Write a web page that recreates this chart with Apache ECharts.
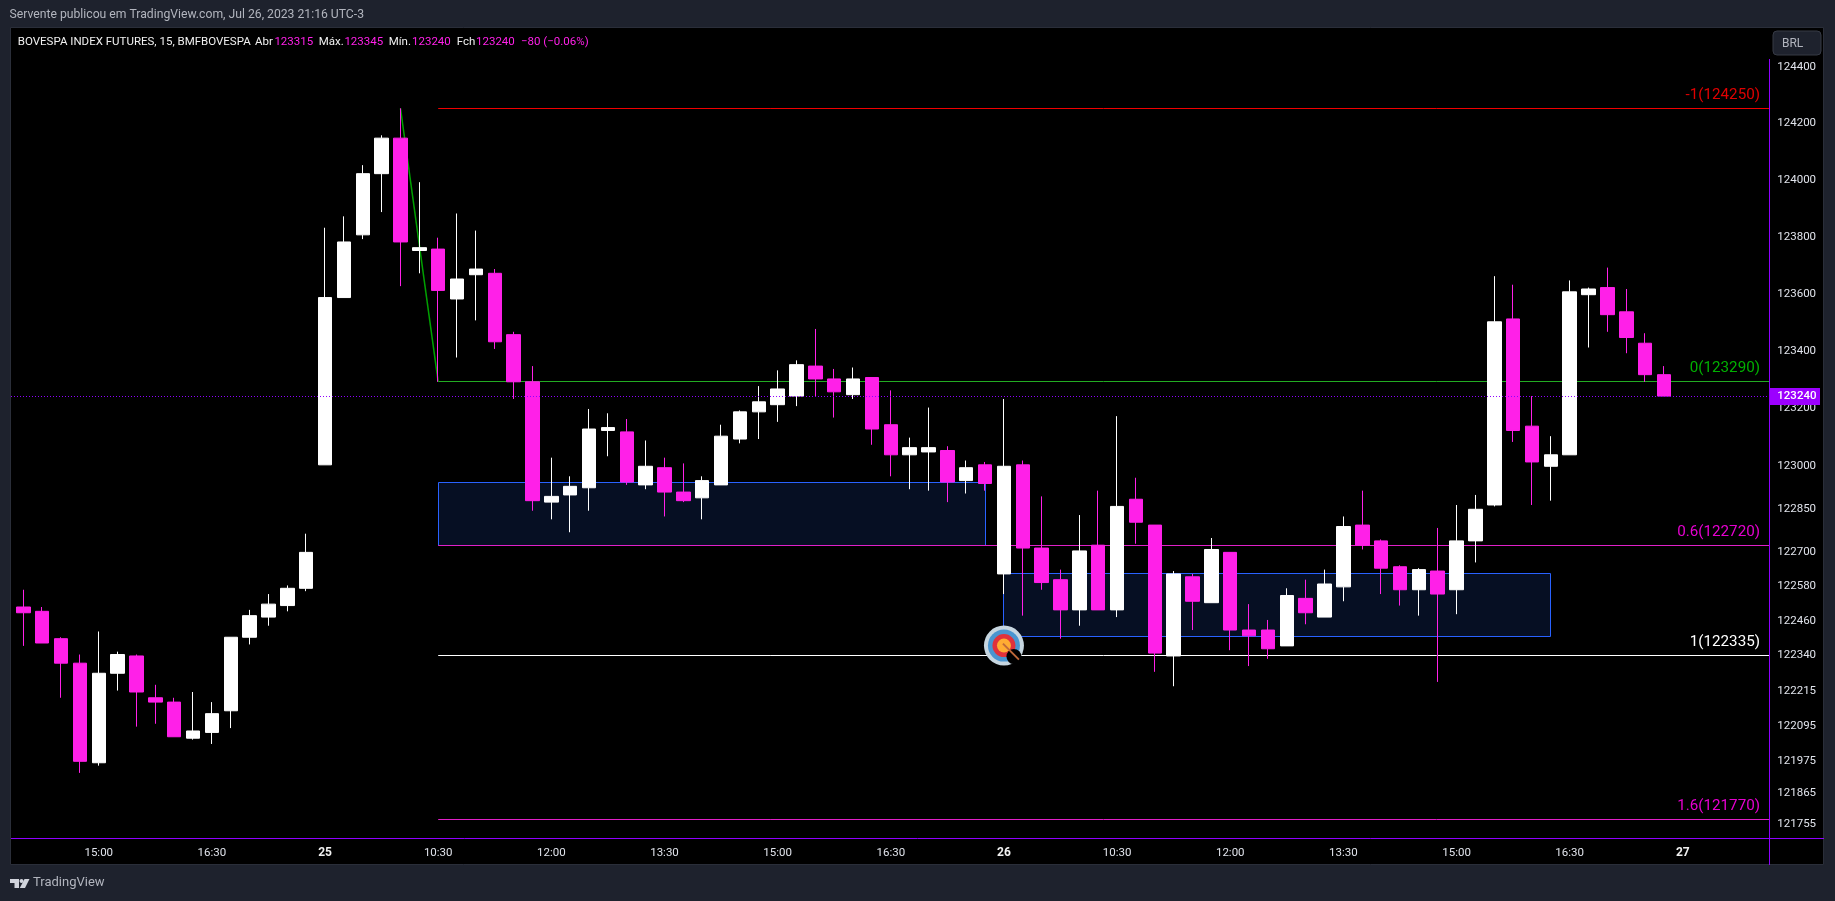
<!DOCTYPE html>
<html lang="pt">
<head>
    <meta charset="UTF-8">
    <title>BOVESPA INDEX FUTURES</title>
    <script src="https://cdn.jsdelivr.net/npm/echarts@6/dist/echarts.min.js"></script>
    <style>
        html, body { margin: 0; padding: 0; background: #1e222d; }
        #main { width: 1835px; height: 901px; }
    </style>
</head>
<body>
<div id="main"></div>
<script type="text/javascript">
// 15 min bars, Jul 24 14:00 to Jul 26 17:45, then empty room on the right
var categories = [
    '14:00','14:15','14:30','14:45','15:00','15:15','15:30','15:45','16:00','16:15','16:30','16:45','17:00','17:15','17:30','17:45',
    '25','09:15','09:30','09:45','10:00','10:15','10:30','10:45','11:00','11:15','11:30','11:45','12:00','12:15','12:30','12:45','13:00','13:15','13:30','13:45','14:00','14:15','14:30','14:45','15:00','15:15','15:30','15:45','16:00','16:15','16:30','16:45','17:00','17:15','17:30','17:45',
    '26','09:15','09:30','09:45','10:00','10:15','10:30','10:45','11:00','11:15','11:30','11:45','12:00','12:15','12:30','12:45','13:00','13:15','13:30','13:45','14:00','14:15','14:30','14:45','15:00','15:15','15:30','15:45','16:00','16:15','16:30','16:45','17:00','17:15','17:30','17:45',
    '27','09:15','09:30','09:45','10:00'
];
var opens = [
    122505,122490,122395,122310,121965,122275,122335,122190,122175,122050,122070,122145,122400,122470,122510,122570,
    123000,123585,123805,124020,124145,123750,123755,123580,123665,123670,123455,123290,122870,122895,122920,123120,123115,122930,122990,122905,122885,122930,123090,123185,123210,123240,123345,123300,123245,123305,123140,123035,123045,123050,122945,123000,
    122620,123000,122710,122600,122495,122720,122495,122880,122790,122335,122610,122520,122695,122425,122425,122370,122535,122470,122575,122790,122735,122645,122565,122630,122565,122735,122860,123510,123135,122995,123035,123595,123620,123535,123425,123315
];
var closes = [
    122485,122380,122310,121970,122275,122340,122210,122175,122055,122075,122135,122400,122475,122515,122570,122695,
    123585,123780,124020,124145,123780,123760,123610,123650,123685,123430,123290,122875,122890,122925,123125,123130,122940,122995,122905,122875,122945,123100,123185,123220,123265,123350,123300,123255,123300,123125,123035,123060,123060,122940,122990,122935,
    122995,122710,122590,122495,122700,122495,122855,122800,122345,122620,122525,122705,122425,122405,122360,122545,122485,122585,122785,122720,122640,122565,122635,122550,122735,122845,123500,123120,123010,123035,123605,123615,123525,123445,123315,123240
];
var lows = [
    122370,122380,122190,121930,121955,122215,122090,122100,122055,122045,122030,122085,122375,122440,122490,122560,
    123000,123585,123790,123885,123625,123670,123290,123375,123505,123405,123230,122840,122810,122765,122840,123030,122930,122915,122820,122870,122810,122930,123075,123090,123150,123205,123240,123165,123230,123070,122960,122915,122910,122870,122900,122910,
    122550,122475,122565,122395,122440,122495,122470,122725,122280,122230,122425,122520,122355,122300,122325,122370,122445,122470,122525,122705,122550,122510,122475,122245,122480,122660,122855,123080,122860,122875,123035,123410,123465,123390,123290,123240
];
var highs = [
    122565,122505,122400,122340,122420,122350,122340,122235,122190,122210,122175,122400,122495,122550,122580,122760,
    123830,123870,124050,124155,124250,123990,123795,123880,123820,123685,123465,123345,123025,122960,123195,123180,123160,123085,123025,123005,122960,123140,123190,123275,123330,123365,123475,123335,123340,123305,123260,123095,123200,123065,123015,123010,
    123230,123015,122890,122635,122825,122910,123170,122955,122790,122630,122620,122745,122695,122515,122460,122570,122600,122635,122820,122910,122740,122650,122640,122780,122860,122895,123660,123630,123240,123100,123645,123620,123690,123615,123460,123345
];
var xTickLabels = ['15:00','16:30','25','10:30','12:00','13:30','26','27'];
var dayLabels = ['25','26','27'];
var yTicks = [124400,124200,124000,123800,123600,123400,123200,123000,122850,122700,122580,122460,122340,122215,122095,121975,121865,121755];

var levelPrices = [124250,123290,122720,122335,121770];
var levelTexts = ['-1(124250)','0(123290)','0.6(122720)','1(122335)','1.6(121770)'];
var levelLineColors = ['#f00000','#22ab22','#e020c8','#ffffff','#e020c8'];
var levelTextColors = ['#e00000','#00b000','#e600d0','#ffffff','#e600d0'];
var levelStartIndex = 22;
var swingFrom = [20,124250];
var swingTo = [22,123290];
var boxes = [[22,51,122938,122720],[52,81,122620,122400]];
var lastPrice = 123240;
var targetPoint = [52,122371];

var white = '#ffffff';
var magenta = '#ff20e8';
var purple = '#8f00ff';
var fontName = 'Roboto, sans-serif';
var axisRight = 1769;

var candleData = opens.map(function (o, i) {
    return [o, closes[i], lows[i], highs[i]];
});

function text(x, y, str, color, size, weight) {
    return {
        type: 'text', x: x, y: y, z: 20,
        style: { text: str, fill: color, font: (weight || 'normal') + ' ' + size + 'px ' + fontName, textVerticalAlign: 'middle' }
    };
}

var gray = '#b2b5be';
var legendY = 41.7;
var legendWhite = '#f0f0f0';
var graphicItems = [
    { type: 'rect', z: -5, shape: { x: 10.5, y: 27.5, width: 1813, height: 837 }, style: { fill: '#000000', stroke: '#2a2e39', lineWidth: 1 } },
    // axis frame
    { type: 'line', z: 15, shape: { x1: 11, y1: 838.5, x2: 1824, y2: 838.5 }, style: { stroke: purple, lineWidth: 1 } },
    { type: 'line', z: 15, shape: { x1: axisRight + 0.5, y1: 59, x2: axisRight + 0.5, y2: 865 }, style: { stroke: purple, lineWidth: 1 } },
    text(9.5, 15, 'Servente publicou em TradingView.com, Jul 26, 2023 21:16 UTC-3', gray, 12.2),
    text(17.8, legendY, 'BOVESPA INDEX FUTURES, 15, BMFBOVESPA', legendWhite, 11.5),
    text(255, legendY, 'Abr', legendWhite, 11.5),
    text(274.4, legendY, '123315', magenta, 11.5),
    text(318.7, legendY, 'Máx.', legendWhite, 11.5),
    text(344.4, legendY, '123345', magenta, 11.5),
    text(388.7, legendY, 'Mín.', legendWhite, 11.5),
    text(412, legendY, '123240', magenta, 11.5),
    text(456.7, legendY, 'Fch', legendWhite, 11.5),
    text(476, legendY, '123240', magenta, 11.5),
    text(521, legendY, '−80 (−0.06%)', magenta, 11.5),
    { type: 'rect', z: 15, shape: { x: 1773, y: 31, width: 48, height: 24, r: 4 }, style: { fill: '#1e222d', stroke: '#363a45', lineWidth: 1 } },
    text(1782, 43.5, 'BRL', gray, 12),
    { type: 'polygon', z: 15, shape: { points: [[10,879],[19,879],[19,888],[14.5,888],[14.5,883],[10,883]] }, style: { fill: '#d1d4dc' } },
    { type: 'circle', z: 15, shape: { cx: 21.5, cy: 881, r: 2 }, style: { fill: '#d1d4dc' } },
    { type: 'polygon', z: 15, shape: { points: [[24.5,879],[29.5,879],[25,888],[19.8,888]] }, style: { fill: '#d1d4dc' } },
    text(33, 883, 'TradingView', gray, 13)
];

var option = {
    backgroundColor: '#1e222d',
    animation: false,
    textStyle: { fontFamily: fontName },
    grid: { left: 13.9, top: 27, width: 1753.8, height: 811, containLabel: false },
    graphic: graphicItems,
    xAxis: {
        type: 'category',
        data: categories,
        axisLine: { show: false },
        axisTick: { show: false },
        splitLine: { show: false },
        axisLabel: {
            color: '#e0e3eb',
            fontSize: 11.5,
            margin: 9,
            hideOverlap: false,
            interval: function (index, value) {
                return xTickLabels.indexOf(value) !== -1;
            },
            formatter: function (value) {
                return dayLabels.indexOf(value) !== -1 ? '{day|' + value + '}' : value;
            },
            rich: { day: { fontWeight: 'bold', fontSize: 12, color: '#f0f0f0' } }
        }
    },
    // the chart is on a log price scale, ticks are unevenly spaced
    yAxis: {
        type: 'log',
        position: 'right',
        min: 121705,
        max: 124537,
        axisLine: { show: false },
        axisTick: { show: false },
        axisLabel: { show: false },
        splitLine: { show: false }
    },
    series: [
        {
            name: 'boxes',
            type: 'custom',
            z: 1,
            silent: true,
            data: boxes.map(function (b, i) { return [i, b[2]]; }),
            renderItem: function (params, api) {
                var b = boxes[params.dataIndex];
                var p1 = api.coord([b[0], b[2]]);
                var p2 = api.coord([b[1], b[3]]);
                return {
                    type: 'rect',
                    shape: { x: Math.floor(p1[0]) + 0.5, y: Math.floor(p1[1]) + 0.5, width: Math.round(p2[0] - p1[0]), height: Math.round(p2[1] - p1[1]) },
                    style: { fill: '#060f23', stroke: '#2962ff', lineWidth: 1 }
                };
            }
        },
        {
            name: 'levels',
            type: 'custom',
            z: 1,
            silent: true,
            data: levelPrices.map(function (p, i) { return [i, p]; }),
            renderItem: function (params, api) {
                var i = params.dataIndex;
                var p = api.coord([levelStartIndex, levelPrices[i]]);
                var y = Math.floor(p[1]) + 0.5;
                return {
                    type: 'group',
                    children: [
                        { type: 'line', shape: { x1: p[0], y1: y, x2: axisRight, y2: y }, style: { stroke: levelLineColors[i], lineWidth: 1 } },
                        { type: 'text', x: axisRight - 9, y: y - 13.5, style: { text: levelTexts[i], fill: levelTextColors[i], font: '15.2px ' + fontName, textAlign: 'right', textVerticalAlign: 'middle' } }
                    ]
                };
            }
        },
        {
            name: 'swing',
            type: 'custom',
            z: 1,
            silent: true,
            data: [[swingFrom[0], swingFrom[1]]],
            renderItem: function (params, api) {
                var a = api.coord(swingFrom);
                var b = api.coord(swingTo);
                return { type: 'line', shape: { x1: a[0], y1: a[1], x2: b[0], y2: b[1] }, style: { stroke: '#00a000', lineWidth: 1.5 } };
            }
        },
        {
            name: 'BOVESPA INDEX FUTURES',
            type: 'candlestick',
            z: 2,
            barWidth: 14,
            data: candleData,
            itemStyle: { color: white, color0: magenta, borderColor: white, borderColor0: magenta, borderWidth: 1 }
        },
        {
            name: 'last price',
            type: 'custom',
            z: 3,
            silent: true,
            data: [[0, lastPrice]],
            renderItem: function (params, api) {
                var y = Math.floor(api.coord([0, lastPrice])[1]) + 0.5;
                return {
                    type: 'line',
                    shape: { x1: 11, y1: y, x2: axisRight, y2: y },
                    style: { stroke: purple, lineWidth: 1, lineDash: [1, 2] }
                };
            }
        },
        {
            name: 'target',
            type: 'custom',
            z: 4,
            silent: true,
            data: [targetPoint],
            renderItem: function (params, api) {
                var c = api.coord(targetPoint);
                return {
                    type: 'group',
                    x: c[0],
                    y: c[1],
                    children: [
                        { type: 'circle', shape: { cx: 0, cy: 0, r: 20 }, style: { fill: '#c7d6e0' } },
                        { type: 'circle', shape: { cx: 0, cy: 0, r: 16 }, style: { fill: '#4a95d0' } },
                        { type: 'circle', shape: { cx: 0, cy: 0, r: 11.5 }, style: { fill: '#e0323c' } },
                        { type: 'circle', shape: { cx: 0, cy: 0, r: 7 }, style: { fill: '#ffac33' } },
                        { type: 'circle', shape: { cx: 10, cy: 11, r: 7.5 }, style: { fill: '#000000' } },
                        { type: 'line', shape: { x1: -1, y1: -2, x2: 15, y2: 14 }, style: { stroke: '#c0693a', lineWidth: 2 } }
                    ]
                };
            }
        },
        {
            name: 'y ticks',
            type: 'custom',
            z: 5,
            silent: true,
            data: yTicks.map(function (v, i) { return [i, v]; }),
            renderItem: function (params, api) {
                var y = api.coord([0, yTicks[params.dataIndex]])[1];
                return {
                    type: 'text', x: 1777.3, y: y + 1,
                    style: { text: String(yTicks[params.dataIndex]), fill: '#e0e3eb', font: '11.5px ' + fontName, textVerticalAlign: 'middle' }
                };
            }
        },
        {
            name: 'price tag',
            type: 'custom',
            z: 6,
            silent: true,
            data: [[0, lastPrice]],
            renderItem: function (params, api) {
                var y = api.coord([0, lastPrice])[1];
                return {
                    type: 'group',
                    children: [
                        { type: 'rect', shape: { x: 1769.5, y: Math.floor(y) - 8, width: 50.5, height: 17 }, style: { fill: '#9c00ff' } },
                        { type: 'text', x: 1777.3, y: y + 0.5, style: { text: String(lastPrice), fill: '#ffffff', font: '500 11.5px ' + fontName, textVerticalAlign: 'middle' } }
                    ]
                };
            }
        }
    ]
};

var myChart = echarts.init(document.getElementById('main'));
myChart.setOption(option);
</script>
</body>
</html>
